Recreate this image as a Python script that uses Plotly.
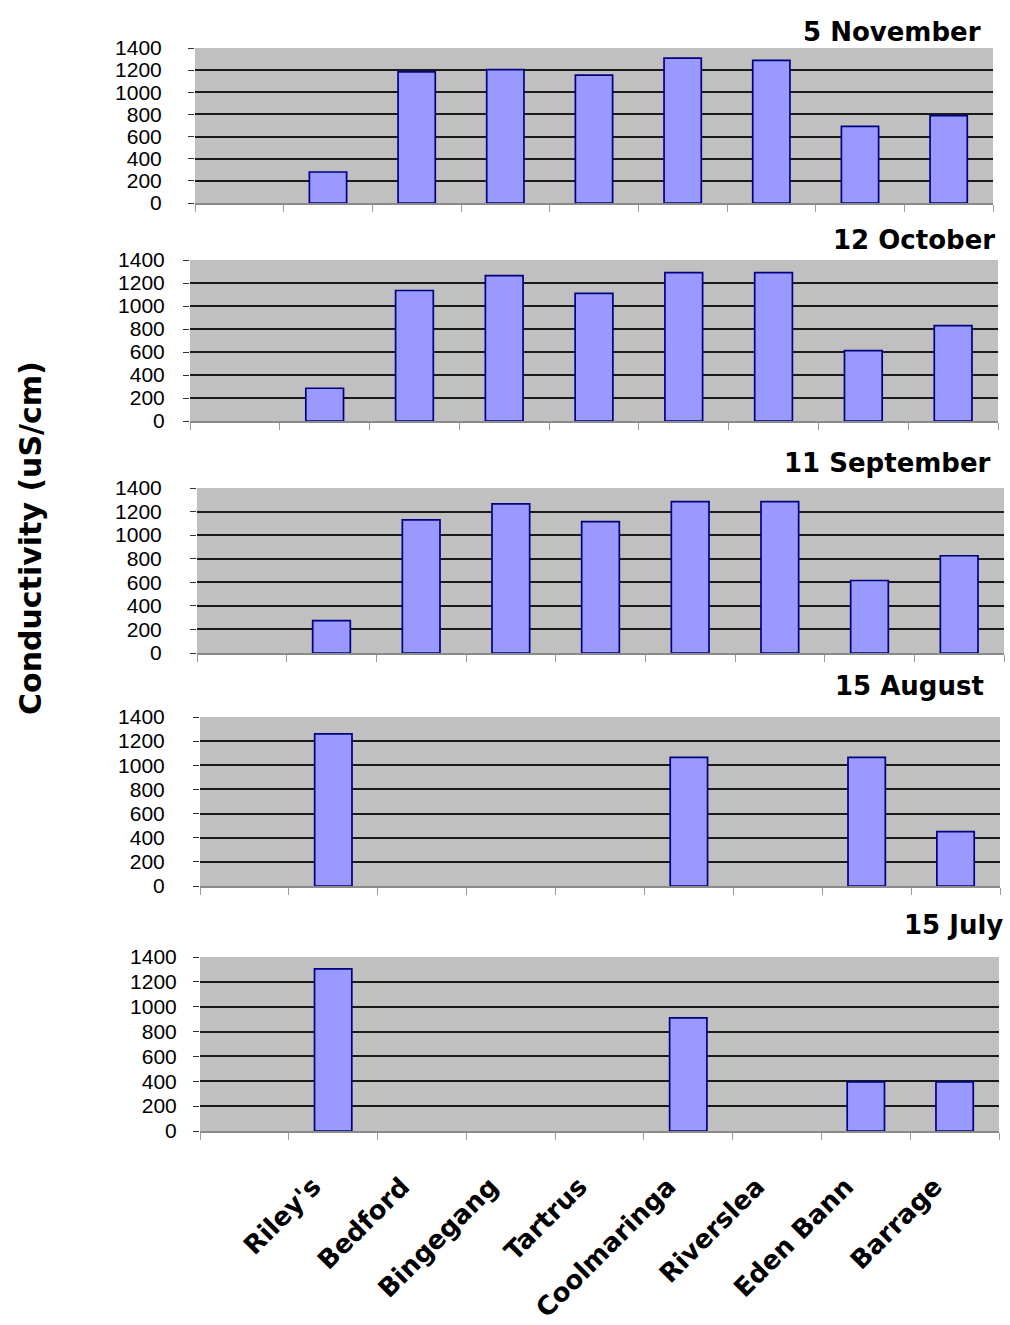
import plotly.graph_objects as go

# Sampling sites along the river (first slot on the axis is left empty)
sites = ["Riley's", "Bedford", "Bingegang", "Tartrus", "Coolmaringa",
         "Riverslea", "Eden Bann", "Barrage"]

# Conductivity (uS/cm) per sampling date, one value per site (None = not sampled)
dates = ["5 November", "12 October", "11 September", "15 August", "15 July"]
nov_5 = [280, 1185, 1205, 1155, 1308, 1288, 692, 790]
oct_12 = [285, 1135, 1265, 1110, 1290, 1290, 612, 830]
sep_11 = [275, 1130, 1265, 1115, 1285, 1285, 615, 825]
aug_15 = [1260, None, None, None, 1065, None, 1065, 450]
jul_15 = [1305, None, None, None, 910, None, 395, 395]

y_ticks = [0, 200, 400, 600, 800, 1000, 1200, 1400]

series = [nov_5, oct_12, sep_11, aug_15, jul_15]

W, H = 1010, 1325
# panel boxes in pixels: left, right, top, bottom
panels = [
    (195, 993, 48, 203),
    (190, 998, 260, 421),
    (197, 1004, 488, 653),
    (200, 1000, 717, 886),
    (200, 999, 957, 1131),
]
label_gap = [22, 14, 24, 24, 12]
# title placement: right edge x, vertical centre y
title_pos = [(983, 32), (997, 240), (993, 463), (986, 686), (1005, 925)]

categories = [" "] + sites
ARIAL = "Liberation Sans, Arial, sans-serif"
WIDE = "DejaVu Sans, Verdana, sans-serif"

fig = go.Figure()
layout = dict(
    width=W, height=H,
    margin=dict(l=0, r=0, t=0, b=0, pad=0, autoexpand=False),
    paper_bgcolor="white",
    plot_bgcolor="#c0c0c0",
    showlegend=False,
    bargap=0.58,
    font=dict(family=ARIAL, color="black"),
    annotations=[],
)

for i, (vals, (l, r, t, b)) in enumerate(zip(series, panels)):
    n = i + 1
    xa = "x" if n == 1 else f"x{n}"
    ya = "y" if n == 1 else f"y{n}"
    fig.add_trace(go.Bar(
        x=categories, y=[None] + vals,
        xaxis=xa, yaxis=ya,
        marker=dict(color="#9999ff", line=dict(color="#000080", width=1.7)),
        width=0.42,
    ))
    last = n == len(series)
    layout[f"xaxis{'' if n == 1 else n}"] = dict(
        domain=[l / W, r / W],
        anchor=ya,
        automargin=False,
        type="category",
        categoryorder="array", categoryarray=categories,
        range=[-0.5, len(categories) - 0.5],
        tickson="boundaries",
        ticks="outside", ticklen=7, tickwidth=1, tickcolor="#9a9a9a",
        showline=True, linecolor="#8a8a8a", linewidth=2,
        showgrid=False, zeroline=False,
        showticklabels=last,
        tickangle=-45,
        ticklabelstandoff=28, ticklabelshift=-20,
        tickfont=dict(family=WIDE, size=26, color="black", weight="bold"),
        fixedrange=True,
    )
    layout[f"yaxis{'' if n == 1 else n}"] = dict(
        domain=[1 - b / H, 1 - t / H],
        anchor=xa,
        automargin=False,
        range=[0, 1400],
        tickmode="array", tickvals=y_ticks, ticktext=[str(v) for v in y_ticks],
        ticks="outside", ticklen=6, tickwidth=1, tickcolor="#333333",
        ticklabelstandoff=label_gap[i],
        showgrid=True, gridcolor="#1a1a1a", gridwidth=2.4,
        zeroline=False, showline=False,
        tickfont=dict(family=ARIAL, size=21, color="black"),
        fixedrange=True,
    )
    tx, ty = title_pos[i]
    layout["annotations"].append(dict(
        text=dates[i], xref="paper", yref="paper",
        x=tx / W, y=1 - ty / H, xanchor="right", yanchor="middle",
        showarrow=False,
        font=dict(family=WIDE, size=26, color="black", weight="bold"),
    ))

layout["annotations"].append(dict(
    text="Conductivity (uS/cm)", xref="paper", yref="paper",
    x=31 / W, y=1 - 538 / H, xanchor="center", yanchor="middle",
    textangle=-90, showarrow=False,
    font=dict(family=WIDE, size=30, color="black", weight="bold"),
))

fig.update_layout(**layout)
fig.write_html("out.html")
